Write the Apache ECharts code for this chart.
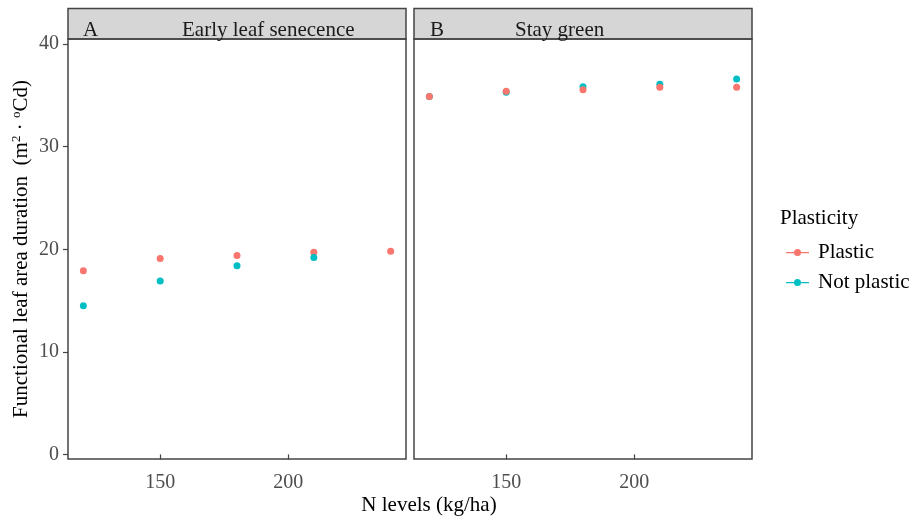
<!DOCTYPE html>
<html>
<head>
<meta charset="utf-8">
<style>html,body{margin:0;padding:0;background:#fff}#c{width:916px;height:516px}</style>
<script src="https://cdn.jsdelivr.net/npm/echarts@6/dist/echarts.min.js"></script>
</head>
<body>
<div id="c"></div>
<script>
// ---- data ----
const nLevels = [120, 150, 180, 210, 240];
const panelNames = ['Early leaf senecence', 'Stay green'];
const panelTags = ['A', 'B'];
const plasticA = [17.9, 19.1, 19.4, 19.7, 19.8];
const notPlasticA = [14.5, 16.9, 18.4, 19.2, null];
const plasticB = [34.9, 35.4, 35.55, 35.8, 35.8];
const notPlasticB = [34.9, 35.3, 35.85, 36.1, 36.6];
const xTicks = [150, 200];
const yTicks = [0, 10, 20, 30, 40];
const seriesNames = ['Plastic', 'Not plastic'];
const colors = ['#F8766D', '#00BFC4'];

const FONT = 'Liberation Serif';
const pts = (vals) => nLevels.map((x, i) => [x, vals[i]]).filter(p => p[1] != null);

const grids = [
  {left: 68, top: 39, width: 338, height: 420},
  {left: 414, top: 39, width: 338, height: 420}
];
const border = '#444';

function xAxis(i) {
  return {
    type: 'value', gridIndex: i, min: 114, max: 246,
    axisLine: {show: false},
    splitLine: {show: false},
    axisTick: {show: true, length: 5, lineStyle: {color: border, width: 1.2}, customValues: xTicks},
    axisLabel: {fontFamily: FONT, fontSize: 20, color: '#4D4D4D', margin: 14, customValues: xTicks}
  };
}
function yAxis(i) {
  const show = i === 0;
  return {
    type: 'value', gridIndex: i, min: -0.45, max: 40.5,
    axisLine: {show: false},
    splitLine: {show: false},
    axisTick: {show: show, length: 5, lineStyle: {color: border, width: 1.2}, customValues: yTicks},
    axisLabel: {show: show, fontFamily: FONT, fontSize: 20, color: '#4D4D4D', margin: 9, customValues: yTicks},
    name: show ? '{a|Functional leaf area duration  (m}{s|2}{a| · }{s|o}{a|Cd)}' : '',
    nameLocation: 'middle', nameRotate: 90, nameGap: 36,
    nameTextStyle: {
      rich: {
        a: {fontFamily: FONT, fontSize: 21, color: '#000', lineHeight: 22, verticalAlign: 'bottom'},
        s: {fontFamily: FONT, fontSize: 13, color: '#000', lineHeight: 22, verticalAlign: 'top'}
      }
    }
  };
}

const legendIcon = 'path://M0,3 L23,3 L23,4.2 L0,4.2 Z M15,3.5 A3.5,3.5 0 1 1 8,3.5 A3.5,3.5 0 1 1 15,3.5 Z';

const graphics = [];
grids.forEach((g, i) => {
  graphics.push({
    type: 'rect', shape: {x: g.left, y: 8.5, width: g.width, height: 30.5},
    style: {fill: '#D6D6D6', stroke: border, lineWidth: 1.5}, z: 10
  });
  graphics.push({
    type: 'rect', shape: {x: g.left, y: g.top, width: g.width, height: g.height},
    style: {fill: 'none', stroke: border, lineWidth: 1.5}, z: 10
  });
});
graphics.push({type: 'text', x: 83, y: 30, style: {text: panelTags[0], font: '21px "' + FONT + '"', fill: '#1a1a1a', verticalAlign: 'middle'}, z: 11});
graphics.push({type: 'text', x: 182, y: 30, style: {text: panelNames[0], font: '21px "' + FONT + '"', fill: '#1a1a1a', verticalAlign: 'middle'}, z: 11});
graphics.push({type: 'text', x: 430, y: 30, style: {text: panelTags[1], font: '21px "' + FONT + '"', fill: '#1a1a1a', verticalAlign: 'middle'}, z: 11});
graphics.push({type: 'text', x: 515, y: 30, style: {text: panelNames[1], font: '21px "' + FONT + '"', fill: '#1a1a1a', verticalAlign: 'middle'}, z: 11});
graphics.push({type: 'text', x: 429, y: 505, style: {text: 'N levels (kg/ha)', font: '21px "' + FONT + '"', fill: '#000', align: 'center', verticalAlign: 'middle'}, z: 11});
graphics.push({type: 'text', x: 780, y: 218, style: {text: 'Plasticity', font: '21px "' + FONT + '"', fill: '#000', verticalAlign: 'middle'}, z: 11});

const mk = (name, data, gi, color) => ({
  type: 'scatter', name: name, xAxisIndex: gi, yAxisIndex: gi, data: pts(data),
  symbol: 'circle', symbolSize: 7, itemStyle: {color: color, opacity: 1}, silent: true
});

const option = {
  animation: false,
  color: colors,
  grid: grids,
  xAxis: [xAxis(0), xAxis(1)],
  yAxis: [yAxis(0), yAxis(1)],
  legend: {
    orient: 'vertical', left: 781, top: 237,
    itemWidth: 23, itemHeight: 7, itemGap: 9,
    data: seriesNames.map(n => ({name: n, icon: legendIcon})),
    textStyle: {fontFamily: FONT, fontSize: 21, color: '#000', lineHeight: 21, padding: [0, 0, 0, 4]},
    selectedMode: false
  },
  graphic: graphics,
  series: [
    mk(seriesNames[0], plasticA, 0, colors[0]),
    mk(seriesNames[1], notPlasticA, 0, colors[1]),
    mk(seriesNames[1], notPlasticB, 1, colors[1]),
    mk(seriesNames[0], plasticB, 1, colors[0])
  ]
};
const chart = echarts.init(document.getElementById('c'));
chart.setOption(option);
</script>
</body>
</html>
